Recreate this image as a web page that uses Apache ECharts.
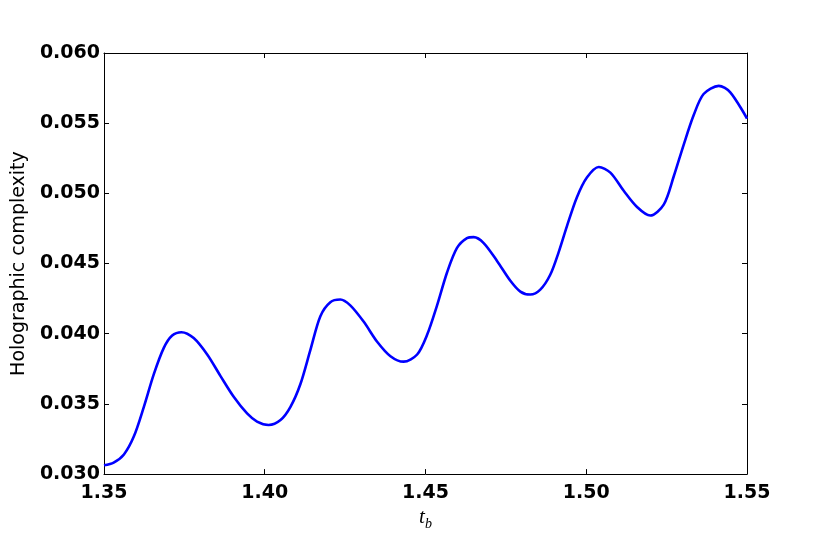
<!DOCTYPE html>
<html>
<head>
<meta charset="utf-8">
<script src="https://cdn.jsdelivr.net/npm/echarts@6/dist/echarts.min.js"></script>
<style>
  html, body { margin: 0; padding: 0; background: #fff; }
  #chart { width: 831px; height: 536px; }
</style>
</head>
<body>
<div id="chart"></div>
<script>
// values
const tb = [1.3500, 1.3530, 1.3562, 1.3593, 1.3624, 1.3655, 1.3686, 1.3712, 1.3741, 1.3779,
  1.3821, 1.3862, 1.3904, 1.3945, 1.3976, 1.4012, 1.4049, 1.4080, 1.4111, 1.4142,
  1.4173, 1.4204, 1.4235, 1.4266, 1.4308, 1.4349, 1.4391, 1.4432, 1.4474, 1.4505,
  1.4536, 1.4567, 1.4598, 1.4629, 1.4650, 1.4681, 1.4723, 1.4764, 1.4795, 1.4826,
  1.4857, 1.4888, 1.4914, 1.4940, 1.4971, 1.5002, 1.5039, 1.5075, 1.5116, 1.5158,
  1.5199, 1.5241, 1.5272, 1.5303, 1.5334, 1.5365, 1.5412, 1.5448, 1.5500]
const complexity = [0.03063, 0.03082, 0.03140, 0.03269, 0.03479, 0.03712, 0.03899, 0.03987, 0.04011, 0.03969,
  0.03852, 0.03700, 0.03549, 0.03432, 0.03374, 0.03350, 0.03385, 0.03479, 0.03642, 0.03885,
  0.04125, 0.04225, 0.04244, 0.04202, 0.04085, 0.03945, 0.03840, 0.03801, 0.03852, 0.03992,
  0.04202, 0.04436, 0.04611, 0.04681, 0.04688, 0.04646, 0.04517, 0.04377, 0.04300, 0.04279,
  0.04314, 0.04420, 0.04580, 0.04767, 0.04973, 0.05113, 0.05188, 0.05148, 0.05020, 0.04903,
  0.04842, 0.04920, 0.05120, 0.05346, 0.05556, 0.05708, 0.05766, 0.05720, 0.05533]
const xRange = [1.35, 1.55]
const yRange = [0.030, 0.060]

const chart = echarts.init(document.getElementById('chart'))

const tickLabel = {
  color: '#000',
  fontFamily: 'DejaVu Sans',
  fontWeight: 'bold',
  fontSize: 19
}
const frame = {
  axisLine: { show: true, lineStyle: { color: '#000', width: 1 } },
  axisTick: { show: true, inside: true, length: 5, lineStyle: { color: '#000' } },
  splitLine: { show: false }
}

const option = {
  animation: false,
  backgroundColor: '#fff',
  grid: { left: 104, top: 53, width: 643, height: 429, containLabel: false },
  xAxis: [
    {
      type: 'value',
      min: xRange[0],
      max: xRange[1],
      interval: 0.05,
      ...frame,
      axisLabel: { ...tickLabel, margin: 9, formatter: v => v.toFixed(2) },
      name: '{t|t}{b|b}',
      nameLocation: 'middle',
      nameGap: 28,
      nameTextStyle: {
        rich: {
          t: { fontFamily: 'Liberation Serif', fontStyle: 'italic', fontSize: 21, lineHeight: 24, verticalAlign: 'top', color: '#000' },
          b: { fontFamily: 'Liberation Serif', fontStyle: 'italic', fontSize: 14, lineHeight: 14, verticalAlign: 'bottom', color: '#000' }
        }
      }
    },
    {
      type: 'value',
      position: 'top',
      min: xRange[0],
      max: xRange[1],
      interval: 0.05,
      ...frame,
      axisLabel: { show: false }
    }
  ],
  yAxis: [
    {
      type: 'value',
      min: yRange[0],
      max: yRange[1],
      interval: 0.005,
      ...frame,
      axisLabel: { ...tickLabel, margin: 4, formatter: v => v.toFixed(3) },
      name: 'Holographic complexity',
      nameLocation: 'middle',
      nameRotate: 90,
      nameGap: 69,
      nameTextStyle: { color: '#000', fontFamily: 'DejaVu Sans', fontSize: 19 }
    },
    {
      type: 'value',
      position: 'right',
      min: yRange[0],
      max: yRange[1],
      interval: 0.005,
      ...frame,
      axisLabel: { show: false }
    }
  ],
  series: [
    {
      type: 'line',
      data: tb.map((t, i) => [t, complexity[i]]),
      smooth: 0.3,
      showSymbol: false,
      lineStyle: { color: '#0000ff', width: 2.6 },
      clip: true
    }
  ]
}

chart.setOption(option)
</script>
</body>
</html>
